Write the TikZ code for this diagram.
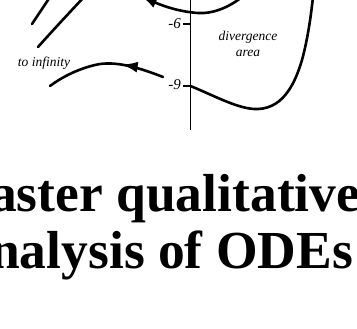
\documentclass[tikz,border=0pt]{standalone}
\usepackage{fontspec}
\setmainfont{Liberation Serif}
\usetikzlibrary{arrows.meta,decorations.markings}

\begin{document}
\begin{tikzpicture}[x=1pt,y=-1pt,
    tray/.style={line width=2.6pt, line cap=round},
    eje/.style={line width=1.8pt},
    etq/.style={font=\itshape\fontsize{13.5}{16}\selectfont, inner sep=0pt},
    titulo/.style={font=\bfseries\fontsize{53.5}{56}\selectfont, inner sep=0pt, anchor=base west}]
  \useasboundingbox (0,0) rectangle (357,329);
  \clip (0,0) rectangle (357,329);
  % eje y marcas
  \draw[eje] (190.5,-2) -- (190.5,130);
  \draw[eje] (183,24) -- (190.5,24);
  \draw[eje] (183,86) -- (190.5,86);
  \node[etq, font=\itshape\fontsize{15}{16}\selectfont, anchor=east] (m6) at (181,24) {-6};
  \node[etq, font=\itshape\fontsize{15}{16}\selectfont, anchor=east] (m9) at (181,85) {-9};
  % trayectorias
  \draw[tray, -{Latex[length=16pt,width=11pt]}] (242,-3) .. controls (228,8) and (212,14) .. (198,13)
    .. controls (182,12) and (165,7) .. (141,-4);
  \draw[tray] (190.5,86) .. controls (215,96) and (240,110) .. (258,109)
    .. controls (285,108) and (296,80) .. (302,60) .. controls (308,38) and (311,15) .. (313,-3);
  \draw[tray] (32,24) -- (50,-3);
  \draw[tray] (38,47) .. controls (55,28) and (70,12) .. (84,-3);
  \draw[tray, decoration={markings, mark=at position 0.36 with {\arrow{Latex[length=16pt,width=11pt]}}},
    postaction={decorate}] (163,77) .. controls (140,68) and (115,60) .. (95,65)
    .. controls (78,69) and (62,77) .. (50,86);
  % textos
  \node[etq] (inf) at (44,63) {to infinity};
  \node[etq, align=center] (div) at (248,44) {divergence\\area};
  \node[titulo] (t1) at (-10,212) {aster qualitative};
  \node[titulo] (t2) at (-10,269) {nalysis of ODEs};
\end{tikzpicture}
\end{document}
